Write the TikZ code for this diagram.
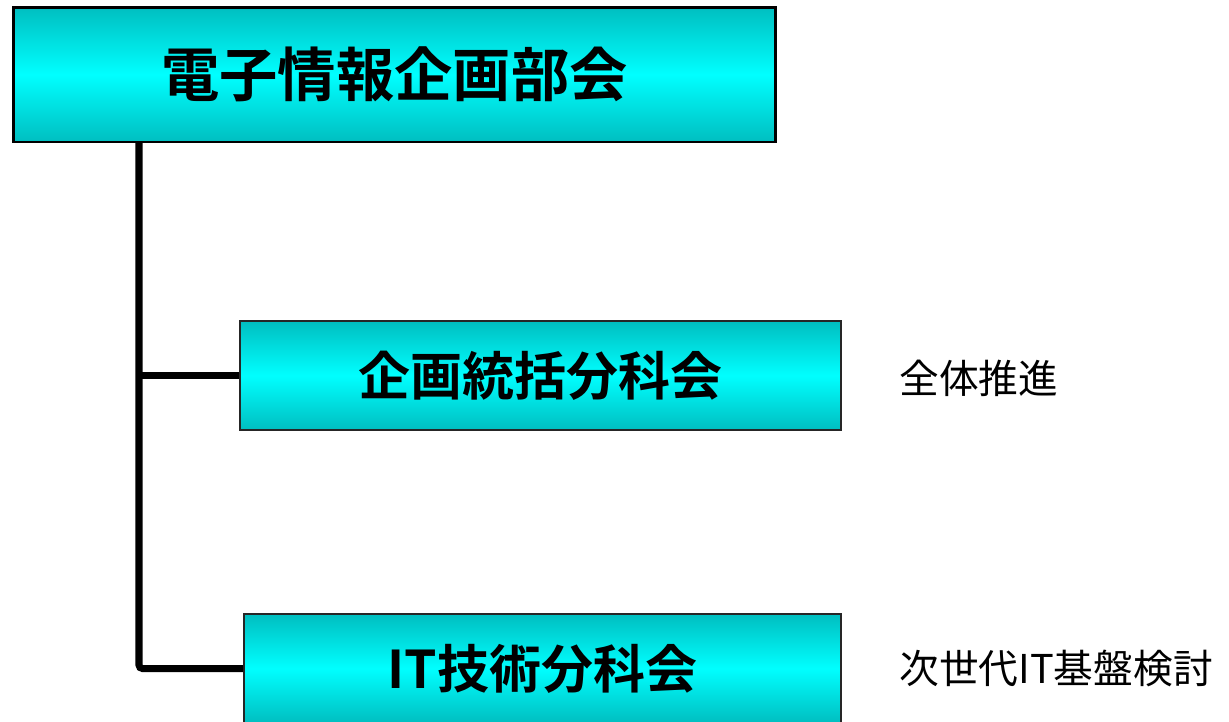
\documentclass[tikz,border=0pt]{standalone}
\usepackage{fontspec}
\newfontfamily\cjk{Noto Sans CJK JP}[BoldFont={Noto Sans CJK JP Bold}]
\definecolor{edgecyan}{RGB}{0,190,192}
\definecolor{midcyan}{RGB}{0,255,255}
\tikzset{
	boxfill/.style = {top color = edgecyan, bottom color = edgecyan, middle color = midcyan},
	headbox/.style = {boxfill, draw = black, line width = 1.7pt, inner sep = 0pt,
		minimum width = 15.26cm, minimum height = 2.7cm,
		font = \cjk\bfseries\fontsize{33.2}{37}\selectfont},
	subbox/.style = {boxfill, draw = black!85, line width = 1.1pt, inner sep = 0pt,
		minimum height = 2.18cm, font = \cjk\bfseries\fontsize{29.6}{33}\selectfont},
	note/.style = {anchor = west, inner sep = 0pt, font = \cjk\fontsize{22.6}{26}\selectfont},
	conn/.style = {line width = 4pt, rounded corners = 2pt}
}
\begin{document}
\begin{tikzpicture}[x = 0.02cm, y = -0.02cm]
	\clip (0,0) rectangle (1229,721);
	\coordinate[](trunk) at (139,142) ;

	% boxes
	\node[headbox](head) at (394.5,74.5) {電子情報企画部会};
	\node[subbox, minimum width = 12.02cm](plan) at (540.5,375.5) {企画統括分科会};
	\node[subbox, minimum width = 11.94cm](tech) at (542.5,668.5) {IT技術分科会};

	% notes
	\node[note](planNote) at (899,378) {全体推進};
	\node[note](techNote) at (899,668) {次世代IT基盤検討};

	% tree lines
	\draw[conn] (trunk) |- (tech.west);
	\draw[conn] (trunk |- plan.west) -- (plan.west);
\end{tikzpicture}
\end{document}
